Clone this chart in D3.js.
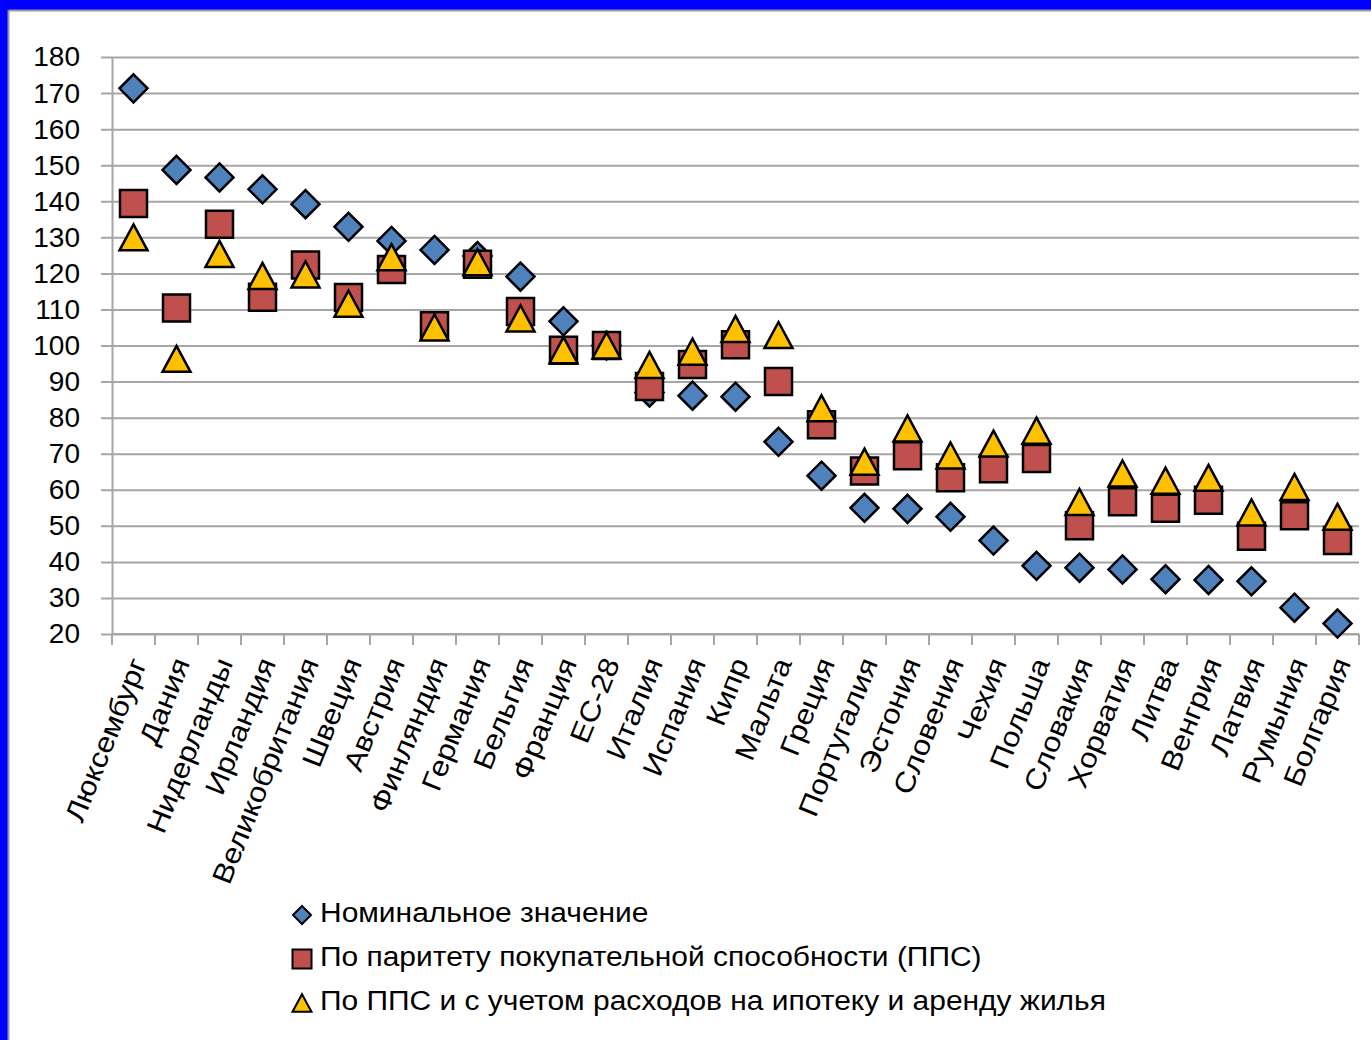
<!DOCTYPE html>
<html>
<head>
<meta charset="utf-8">
<script src="https://cdn.jsdelivr.net/npm/d3@7"></script>
<style>
  html, body { margin: 0; padding: 0; background: #fff; }
  svg { display: block; }
  text { font-family: "Liberation Sans", Arial, sans-serif; fill: #000; }
</style>
</head>
<body>
<svg id="chart" width="1371" height="1040"></svg>
<script>
// Countries, ordered by nominal wage level
const categories = ["Люксембург", "Дания", "Нидерланды", "Ирландия", "Великобритания",
  "Швеция", "Австрия", "Финляндия", "Германия", "Бельгия", "Франция", "ЕС-28",
  "Италия", "Испания", "Кипр", "Мальта", "Греция", "Португалия", "Эстония",
  "Словения", "Чехия", "Польша", "Словакия", "Хорватия", "Литва", "Венгрия",
  "Латвия", "Румыния", "Болгария"];

// Index values, ЕС-28 = 100
const nominal = [171.3, 148.7, 146.6, 143.3, 139.2, 132.9, 129.0, 126.5, 124.8, 119.1,
  106.7, 100, 87.0, 86.1, 85.8, 73.3, 63.9, 55.0, 54.7, 52.5, 45.9, 38.9, 38.4,
  37.9, 35.2, 35.0, 34.6, 27.3, 22.9];
const ppp = [139.4, 110.4, 133.6, 113.4, 122.3, 113.3, 121.1, 105.5, 122.5, 109.4,
  98.7, 100, 88.6, 94.7, 100.2, 90.0, 78.0, 65.2, 69.4, 63.3, 65.8, 68.7, 50.0,
  56.7, 54.9, 57.1, 47.1, 52.8, 45.9];
const pppHousing = [130.0, 96.3, 125.4, 119.3, 119.7, 111.6, 124.5, 105.0, 123.1, 107.5,
  98.7, 100, 94.6, 98.3, 104.6, 102.9, 82.6, 67.8, 77.0, 69.5, 72.8, 76.4, 56.6,
  64.5, 62.5, 63.3, 53.7, 60.8, 52.5];

const yTicks = [20, 30, 40, 50, 60, 70, 80, 90, 100, 110, 120, 130, 140, 150, 160, 170, 180];

const seriesNames = [
  "Номинальное значение",
  "По паритету покупательной способности (ППС)",
  "По ППС и с учетом расходов на ипотеку и аренду жилья"
];

// Marker shapes: diamond, square, triangle (triangle centred on its bounding box)
const diamond = { draw(ctx, size) { const r = Math.sqrt(size) / 2;
  ctx.moveTo(0, -r); ctx.lineTo(r, 0); ctx.lineTo(0, r); ctx.lineTo(-r, 0); ctx.closePath(); } };
const square = { draw(ctx, size) { const r = Math.sqrt(size) / 2;
  ctx.moveTo(-r, -r); ctx.lineTo(r, -r); ctx.lineTo(r, r); ctx.lineTo(-r, r); ctx.closePath(); } };
const triangle = { draw(ctx, size) { const r = Math.sqrt(size) / 2, h = r * 0.93;
  ctx.moveTo(0, -h); ctx.lineTo(r, h); ctx.lineTo(-r, h); ctx.closePath(); } };

const series = [
  { name: seriesNames[0], values: nominal, shape: diamond, fill: "#4F81BD", size: 28 * 28, legendSize: 18 * 18 },
  { name: seriesNames[1], values: ppp, shape: square, fill: "#C0504D", size: 27 * 27, legendSize: 19 * 19 },
  { name: seriesNames[2], values: pppHousing, shape: triangle, fill: "#FFC000", size: 28 * 28, legendSize: 19 * 19 }
];

const svg = d3.select("#chart");
const W = 1371, H = 1040;

// Slide frame: blue bands on the top and left with a thin grey edge
svg.append("rect").attr("x", 0).attr("y", 0).attr("width", W).attr("height", H).attr("fill", "#fff");
svg.append("rect").attr("x", 0).attr("y", 0).attr("width", W).attr("height", 10).attr("fill", "#0000ff");
svg.append("rect").attr("x", 0).attr("y", 0).attr("width", 8).attr("height", H).attr("fill", "#0000ff");
svg.append("line").attr("x1", 9).attr("x2", W).attr("y1", 10.5).attr("y2", 10.5).attr("stroke", "#9a9a9a").attr("stroke-width", 2);
svg.append("line").attr("x1", 8.5).attr("x2", 8.5).attr("y1", 10).attr("y2", H).attr("stroke", "#9a9a9a").attr("stroke-width", 2);

const plot = { left: 112, right: 1359, top: 57, bottom: 634 };

const x = d3.scaleBand().domain(categories).range([plot.left, plot.right]).paddingInner(0).paddingOuter(0);
const y = d3.scaleLinear().domain([20, 180]).range([plot.bottom, plot.top]);

// Horizontal gridlines, extended left as outside tick marks
const gridG = svg.append("g").attr("transform", `translate(${plot.left},0)`)
  .call(d3.axisLeft(y).tickValues(yTicks).tickSize(-(plot.right - plot.left)).tickFormat(""));
gridG.select(".domain").remove();
gridG.selectAll(".tick line").attr("stroke", "#a6a6a6").attr("stroke-width", 2).attr("x1", -11);

// Value axis labels
const yAxisG = svg.append("g").attr("transform", `translate(${plot.left},0)`)
  .call(d3.axisLeft(y).tickValues(yTicks).tickSize(0).tickPadding(32).tickFormat(d3.format("d")));
yAxisG.select(".domain").attr("stroke", "#a6a6a6").attr("stroke-width", 2);
yAxisG.selectAll(".tick text").attr("font-size", 28).attr("font-family", "Liberation Sans, Arial, sans-serif").attr("fill", "#000");

// Category axis: baseline with tick marks at category boundaries
const xAxisG = svg.append("g").attr("transform", `translate(0,${plot.bottom})`);
xAxisG.append("line").attr("x1", plot.left).attr("x2", plot.right).attr("y1", 0).attr("y2", 0)
  .attr("stroke", "#a6a6a6").attr("stroke-width", 2);
const boundaries = categories.map(c => x(c)).concat([x(categories[categories.length - 1]) + x.bandwidth()]);
xAxisG.selectAll("line.tk").data(boundaries).join("line").attr("class", "tk")
  .attr("x1", d => d).attr("x2", d => d).attr("y1", 0).attr("y2", 11)
  .attr("stroke", "#a6a6a6").attr("stroke-width", 2);

// Rotated country names
svg.append("g").selectAll("text").data(categories).join("text")
  .attr("transform", d => `translate(${x(d) + x.bandwidth() / 2 + 7},${plot.bottom + 26}) rotate(-68) scale(1.12,1)`)
  .attr("text-anchor", "end")
  .attr("dominant-baseline", "middle")
  .attr("font-size", 28)
  .text(d => d);

// Markers: diamonds first, squares over them, triangles on top
const cx = (i) => x(categories[i]) + x.bandwidth() / 2;
series.forEach(s => {
  svg.append("g").selectAll("path").data(s.values).join("path")
    .attr("transform", (v, i) => `translate(${cx(i)},${y(v)})`)
    .attr("d", d3.symbol().type(s.shape).size(s.size)())
    .attr("fill", s.fill).attr("stroke", "#000").attr("stroke-width", 2.5).attr("stroke-linejoin", "miter");
});

// Legend
const legend = svg.append("g").attr("transform", "translate(302,915)");
series.forEach((s, k) => {
  const row = legend.append("g").attr("transform", `translate(0,${k * 44})`);
  row.append("path").attr("d", d3.symbol().type(s.shape).size(s.legendSize)())
    .attr("fill", s.fill).attr("stroke", "#000").attr("stroke-width", 2);
  row.append("text").attr("transform", "translate(18,0) scale(1.07,1)")
    .attr("dominant-baseline", "middle")
    .attr("font-size", 28).text(s.name);
});
</script>
</body>
</html>
